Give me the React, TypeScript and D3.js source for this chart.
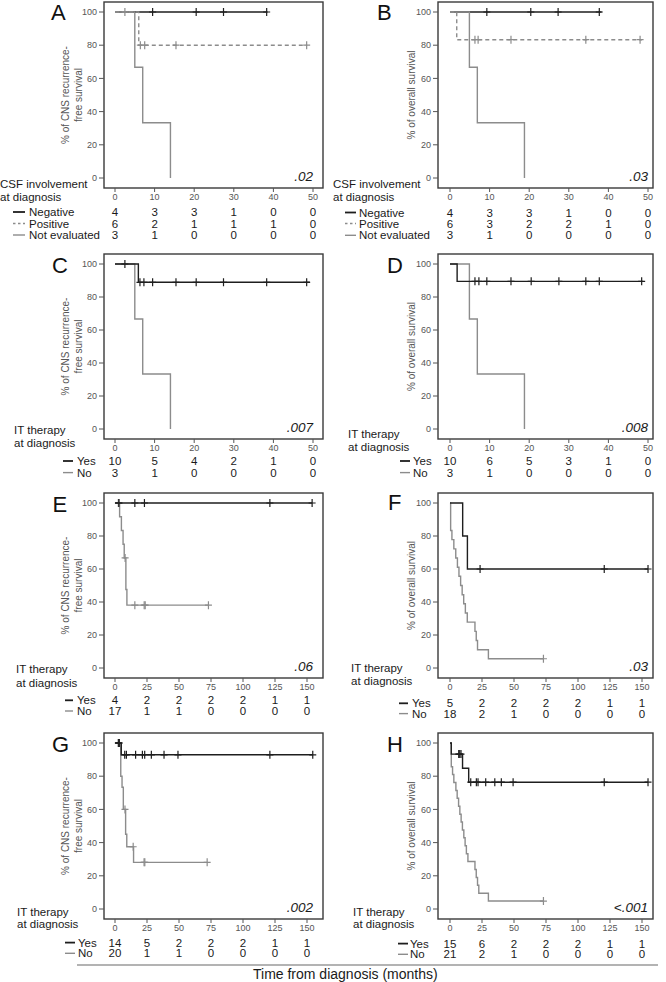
import React from 'react';
import * as d3 from 'd3';

type Step = [number, number];

const FONT = '"Liberation Sans", Arial, Helvetica, sans-serif';

// ---------- axis ticks ----------
const monthTicksShort = [0, 10, 20, 30, 40, 50];
const monthTicksLong = [0, 25, 50, 75, 100, 125, 150];
const percentTicks = [0, 20, 40, 60, 80, 100];

// ---------- labels ----------
const cnsLabel = ['% of CNS recurrence-', 'free survival'];
const osLabel = ['% of overall survival'];
const csfHeader = ['CSF involvement', 'at diagnosis'];
const itHeader = ['IT therapy', 'at diagnosis'];
const csfGroups = ['Negative', 'Positive', 'Not evaluated'];
const itGroups = ['Yes', 'No'];
const pValues = ['.02', '.03', '.007', '.008', '.06', '.03', '.002', '<.001'];
const panelLetters = ['A', 'B', 'C', 'D', 'E', 'F', 'G', 'H'];

// ---------- Panel A (CNS RFS by CSF) ----------
const aNegSteps: Step[] = [[0, 100]];
const aNegEnd = 38.5;
const aNegCens = [9.5, 20.5, 27.4, 38.3];
const aNegRisk = [4, 3, 3, 1, 0, 0];
const aPosSteps: Step[] = [[0, 100], [6, 80]];
const aPosEnd = 48.5;
const aPosCens = [2.5, 6.4, 7.5, 15.4, 48.4];
const aPosRisk = [6, 2, 1, 1, 1, 0];
const aNeSteps: Step[] = [[0, 100], [5, 66.7], [7, 33.3], [14, 0]];
const aNeEnd = 14;
const aNeCens: number[] = [];
const aNeRisk = [3, 1, 0, 0, 0, 0];

// ---------- Panel B (OS by CSF) ----------
const bNegSteps: Step[] = [[0, 100]];
const bNegEnd = 38.3;
const bNegCens = [9.3, 20.4, 27.3, 37.7];
const bNegRisk = [4, 3, 3, 1, 0, 0];
const bPosSteps: Step[] = [[0, 100], [1.7, 83.3]];
const bPosEnd = 48.5;
const bPosCens = [6.3, 7.1, 15.4, 34.3, 48];
const bPosRisk = [6, 3, 2, 2, 1, 0];
const bNeSteps: Step[] = [[0, 100], [4.9, 66.7], [6.9, 33.3], [18.8, 0]];
const bNeEnd = 18.8;
const bNeCens: number[] = [];
const bNeRisk = [3, 1, 0, 0, 0, 0];

// ---------- Panel C (CNS RFS by IT therapy, 50 mo) ----------
const cYesSteps: Step[] = [[0, 100], [5.9, 88.9]];
const cYesEnd = 49.2;
const cYesCens = [2.5, 6.3, 7.3, 9.5, 15.4, 20.5, 27.4, 38.3, 48.4];
const cYesRisk = [10, 5, 4, 2, 1, 0];
const cNoSteps: Step[] = [[0, 100], [5, 66.7], [7, 33.3], [14, 0]];
const cNoEnd = 14;
const cNoCens: number[] = [];
const cNoRisk = [3, 1, 0, 0, 0, 0];

// ---------- Panel D (OS by IT therapy, 50 mo) ----------
const dYesSteps: Step[] = [[0, 100], [1.8, 89.5]];
const dYesEnd = 48.8;
const dYesCens = [6.3, 7.3, 9.3, 15.4, 20.5, 27.5, 34.3, 37.7, 48.4];
const dYesRisk = [10, 6, 5, 3, 1, 0];
const dNoSteps: Step[] = [[0, 100], [4.9, 66.7], [6.9, 33.3], [18.8, 0]];
const dNoEnd = 18.8;
const dNoCens: number[] = [];
const dNoRisk = [3, 1, 0, 0, 0, 0];

// ---------- Panel E (CNS RFS by IT therapy, 150 mo) ----------
const eYesSteps: Step[] = [[0, 100]];
const eYesEnd = 154;
const eYesCens = [3, 15.5, 23, 121, 154];
const eYesRisk = [4, 2, 2, 2, 2, 1, 1];
const eNoSteps: Step[] = [[0, 100], [3.6, 91.7], [5, 83.3], [6.3, 75], [7.2, 66.7], [8.5, 47.6], [9.3, 38.1]];
const eNoEnd = 73;
const eNoCens = [2.6, 3.2, 7.9, 15.5, 22.8, 23.6, 73];
const eNoRisk = [17, 1, 1, 0, 0, 0, 0];

// ---------- Panel F (OS by IT therapy, 150 mo) ----------
const fYesSteps: Step[] = [[0, 100], [9.9, 80], [13.6, 60]];
const fYesEnd = 154.7;
const fYesCens = [23.5, 120.5, 154.7];
const fYesRisk = [5, 2, 2, 2, 2, 1, 1];
const fNoSteps: Step[] = [
  [0, 100], [0.5, 83.3], [1.5, 77.8], [3, 72.2], [4.5, 66.7], [5.8, 61.1], [7, 55.6], [8.3, 50],
  [9.5, 44.4], [10.7, 38.9], [12, 33.3], [13.5, 27.8], [19.5, 22.2], [20.5, 16.7], [21.5, 11.1], [30, 5.6],
];
const fNoEnd = 73;
const fNoCens = [73];
const fNoRisk = [18, 2, 1, 0, 0, 0, 0];

// ---------- Panel G (CNS RFS, whole cohort) ----------
const gYesSteps: Step[] = [[0, 100], [4.9, 92.9]];
const gYesEnd = 154.5;
const gYesCens = [2.6, 3.4, 7.6, 8.9, 16.1, 21.4, 23.2, 28.4, 38.3, 49.2, 121, 154.5];
const gYesRisk = [14, 5, 2, 2, 2, 1, 1];
const gNoSteps: Step[] = [[0, 100], [4.5, 80], [5.5, 73.3], [6.5, 60], [8.3, 45], [9.2, 37.5], [14.5, 28.1]];
const gNoEnd = 72;
const gNoCens = [3, 7.8, 14.2, 22.7, 23.3, 72];
const gNoRisk = [20, 1, 1, 0, 0, 0, 0];

// ---------- Panel H (OS, whole cohort) ----------
const hYesSteps: Step[] = [[0, 100], [1, 93.3], [9.8, 84.8], [14.6, 76.4]];
const hYesEnd = 154.7;
const hYesCens = [6.8, 7.6, 8.6, 16.2, 20.6, 21.9, 27.9, 35, 40.1, 49.3, 120.5, 154.7];
const hYesRisk = [15, 6, 2, 2, 2, 1, 1];
const hNoSteps: Step[] = [
  [0, 100], [1, 85.7], [2, 81], [3, 76.2], [4.6, 71.4], [5.6, 66.7], [6.7, 61.9], [7.7, 57.1], [8.7, 52.4],
  [9.7, 47.6], [10.8, 42.9], [11.8, 38.1], [12.8, 33.3], [14, 28.6], [19.5, 23.8], [20.5, 19], [21.5, 14.3],
  [22.5, 9.5], [30, 4.8],
];
const hNoEnd = 73;
const hNoCens = [73];
const hNoRisk = [21, 2, 1, 0, 0, 0, 0];

// ---------- styles ----------
const BLACK = '#1e1e1e';
const GRAY = '#8c8c8c';
const AXIS = '#555';
const TEXT = '#1a1a1a';

type Series = { name: string; color: string; dash?: string; steps: Step[]; end: number; cens: number[]; risk: number[] };

const csfSeries = (neg: any[], pos: any[], ne: any[]): Series[] => [
  { name: csfGroups[0], color: BLACK, steps: neg[0], end: neg[1], cens: neg[2], risk: neg[3] },
  { name: csfGroups[1], color: GRAY, dash: '4,3', steps: pos[0], end: pos[1], cens: pos[2], risk: pos[3] },
  { name: csfGroups[2], color: GRAY, steps: ne[0], end: ne[1], cens: ne[2], risk: ne[3] },
];
const itSeries = (yes: any[], no: any[]): Series[] => [
  { name: itGroups[0], color: BLACK, steps: yes[0], end: yes[1], cens: yes[2], risk: yes[3] },
  { name: itGroups[1], color: GRAY, steps: no[0], end: no[1], cens: no[2], risk: no[3] },
];

const seriesByPanel: Series[][] = [
  csfSeries([aNegSteps, aNegEnd, aNegCens, aNegRisk], [aPosSteps, aPosEnd, aPosCens, aPosRisk], [aNeSteps, aNeEnd, aNeCens, aNeRisk]),
  csfSeries([bNegSteps, bNegEnd, bNegCens, bNegRisk], [bPosSteps, bPosEnd, bPosCens, bPosRisk], [bNeSteps, bNeEnd, bNeCens, bNeRisk]),
  itSeries([cYesSteps, cYesEnd, cYesCens, cYesRisk], [cNoSteps, cNoEnd, cNoCens, cNoRisk]),
  itSeries([dYesSteps, dYesEnd, dYesCens, dYesRisk], [dNoSteps, dNoEnd, dNoCens, dNoRisk]),
  itSeries([eYesSteps, eYesEnd, eYesCens, eYesRisk], [eNoSteps, eNoEnd, eNoCens, eNoRisk]),
  itSeries([fYesSteps, fYesEnd, fYesCens, fYesRisk], [fNoSteps, fNoEnd, fNoCens, fNoRisk]),
  itSeries([gYesSteps, gYesEnd, gYesCens, gYesRisk], [gNoSteps, gNoEnd, gNoCens, gNoRisk]),
  itSeries([hYesSteps, hYesEnd, hYesCens, hYesRisk], [hNoSteps, hNoEnd, hNoCens, hNoRisk]),
];

// ---------- layout (positions only) ----------
const columns = [
  { frameL: 104, frameR: 323, x0: 115, x50: 313, x150: 307, pRight: 313, yLab: [68.5, 81.5], yLabOS: 80 },
  { frameL: 438, frameR: 653, x0: 450, x50: 648, x150: 642, pRight: 648, yLab: [402, 415], yLabOS: 415 },
];
const layouts = [
  { col: 0, top: 2, bottom: 188, long: false, os: false, lx: 51, ly: 20, hx: 0, hy: [188, 201], ll: [13, 25], tx: 29, ry: [216, 227.5, 239] },
  { col: 1, top: 2, bottom: 188, long: false, os: true, lx: 377, ly: 20, hx: 333, hy: [188, 201], ll: [345, 356], tx: 359, ry: [216.5, 227.5, 239.3] },
  { col: 0, top: 254, bottom: 439, long: false, os: false, lx: 52, ly: 273, hx: 14, hy: [434.3, 446.8], ll: [63, 73], tx: 77, ry: [465, 476.6] },
  { col: 1, top: 254, bottom: 439, long: false, os: true, lx: 387, ly: 273, hx: 348, hy: [438, 451], ll: [400, 410], tx: 413, ry: [465, 476.6] },
  { col: 0, top: 493, bottom: 678, long: true, os: false, lx: 52.5, ly: 512, hx: 16, hy: [673.3, 686.6], ll: [65, 73], tx: 77, ry: [704.3, 715] },
  { col: 1, top: 493, bottom: 678, long: true, os: true, lx: 388, ly: 510, hx: 351, hy: [671.6, 685], ll: [399, 408], tx: 412, ry: [707.3, 717.6] },
  { col: 0, top: 733, bottom: 919, long: true, os: false, lx: 52, ly: 752, hx: 17, hy: [915.6, 928.3], ll: [65, 75], tx: 78, ry: [946.6, 957.3] },
  { col: 1, top: 733, bottom: 919, long: true, os: true, lx: 387, ly: 752, hx: 353, hy: [915.6, 928.3], ll: [398, 408], tx: 410, ry: [947.6, 958.3] },
];

const survAt = (steps: Step[], t: number) => {
  let s = steps[0][1];
  for (const [ti, si] of steps) if (ti <= t) s = si;
  return s;
};

function Panel({ idx }: { idx: number }) {
  const L = layouts[idx];
  const C = columns[L.col];
  const series = seriesByPanel[idx];
  const ticks = L.long ? monthTicksLong : monthTicksShort;
  const x = d3.scaleLinear().domain([0, L.long ? 150 : 50]).range([C.x0, L.long ? C.x150 : C.x50]);
  const y = d3.scaleLinear().domain([0, 100]).range([L.bottom - 10, L.top + 10]);
  const line = d3.line<Step>().x((d) => x(d[0])).y((d) => y(d[1])).curve(d3.curveStepAfter);
  const header = idx < 2 ? csfHeader : itHeader;
  const yLabel = L.os ? osLabel : cnsLabel;
  const yMid = (y(0) + y(100)) / 2;
  const drawOrder = idx < 2 ? [0, 1, 2] : [1, 0];

  return (
    <g>
      <rect x={C.frameL} y={L.top} width={C.frameR - C.frameL} height={L.bottom - L.top} fill="none" stroke="#3a3a3a" strokeWidth={1.4} />
      {percentTicks.map((t) => (
        <g key={'y' + t}>
          <line x1={C.frameL - 5} x2={C.frameL} y1={y(t)} y2={y(t)} stroke={AXIS} strokeWidth={1} />
          <text x={C.frameL - 7} y={y(t)} dy="0.35em" textAnchor="end" fontSize={9} fill={AXIS}>{t}</text>
        </g>
      ))}
      {ticks.map((t) => (
        <g key={'x' + t}>
          <line x1={x(t)} x2={x(t)} y1={L.bottom} y2={L.bottom + 4} stroke={AXIS} strokeWidth={1} />
          <text x={x(t)} y={L.bottom + 11.5} textAnchor="middle" fontSize={9} fill={AXIS}>{t}</text>
        </g>
      ))}
      {yLabel.length === 2 ? (
        yLabel.map((s, i) => (
          <text key={s} transform={`translate(${C.yLab[i]},${yMid}) rotate(-90)`} textAnchor="middle" fontSize={10} fill={AXIS}>{s}</text>
        ))
      ) : (
        <text transform={`translate(${C.yLabOS},${yMid}) rotate(-90)`} textAnchor="middle" fontSize={10} fill={AXIS}>{yLabel[0]}</text>
      )}
      {drawOrder.map((si) => {
        const s = series[si];
        const pts: Step[] = [...s.steps, [s.end, s.steps[s.steps.length - 1][1]]];
        return (
          <g key={'c' + si}>
            <path d={line(pts) || ''} fill="none" stroke={s.color} strokeWidth={1.4} strokeDasharray={s.dash} />
            {s.cens.map((c, k) => {
              const cx = x(c);
              const cy = y(survAt(s.steps, c));
              return <path key={k} d={`M${cx},${cy - 4}V${cy + 4}M${cx - 3.5},${cy}H${cx + 3.5}`} stroke={s.color} strokeWidth={1.2} fill="none" />;
            })}
          </g>
        );
      })}
      <text x={C.pRight} y={L.bottom - 7.5} textAnchor="end" fontSize={13.5} fontStyle="italic" fill={TEXT}>{pValues[idx]}</text>
      <text x={L.lx} y={L.ly} fontSize={22} fill="#111">{panelLetters[idx]}</text>
      {header.map((h, i) => (
        <text key={h} x={L.hx} y={L.hy[i]} fontSize={11.5} fill={TEXT}>{h}</text>
      ))}
      {series.map((s, si) => (
        <g key={'r' + si}>
          <line x1={L.ll[0]} x2={L.ll[1]} y1={L.ry[si] - 4} y2={L.ry[si] - 4} stroke={s.color} strokeWidth={s.color === BLACK ? 1.8 : 1.4} strokeDasharray={s.dash ? '2.5,2.5' : undefined} />
          <text x={L.tx} y={L.ry[si]} fontSize={11.5} fill={TEXT}>{s.name}</text>
          {s.risk.map((n, k) => (
            <text key={k} x={x(ticks[k])} y={L.ry[si]} textAnchor="middle" fontSize={11.5} fill={TEXT}>{n}</text>
          ))}
        </g>
      ))}
    </g>
  );
}

export default function App() {
  return (
    <svg width={666} height={982} style={{ position: 'absolute', left: 0, top: 0, display: 'block', background: '#fff' }} fontFamily={FONT}>
      <rect x={0} y={0} width={666} height={982} fill="#fff" />
      {layouts.map((_, i) => (
        <Panel key={i} idx={i} />
      ))}
      <line x1={77} x2={658} y1={965} y2={965} stroke="#9a9a9a" strokeWidth={1.5} />
      <text x={253} y={978.5} fontSize={14} fill={TEXT}>Time from diagnosis (months)</text>
    </svg>
  );
}
